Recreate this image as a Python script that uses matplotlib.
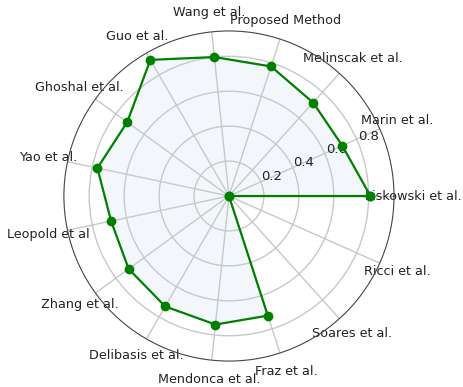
import numpy as np
import matplotlib.pyplot as plt

# methods compared, counter-clockwise starting at 0 degrees
metodos = ['Liskowski et al.', 'Marin et al.', 'Melinscak et al.', 'Proposed Method',
           'Wang et al.', 'Guo et al.', 'Ghoshal et al.', 'Yao et al.', 'Leopold et al',
           'Zhang et al.', 'Delibasis et al.', 'Mendonca et al.', 'Fraz et al.',
           'Soares et al.', 'Ricci et al.']
valores = [0.81, 0.71, 0.72, 0.78, 0.80, 0.90, 0.72, 0.77, 0.69,
           0.71, 0.73, 0.74, 0.72, 0.0, 0.0]

n = len(metodos)
angulos = np.linspace(0, 2 * np.pi, n, endpoint=False).tolist()

# fecha o poligono
vals = valores + valores[:1]
angs = angulos + angulos[:1]

fig = plt.figure(figsize=(4.63, 3.87), dpi=100)
ax = fig.add_axes([0.138, 0.067, 0.713, 0.853], polar=True)

ax.plot(angs, vals, color='green', linewidth=1.6, marker='o', markersize=6)
ax.fill(angs, vals, color='#e6eefa', alpha=0.45, zorder=0)

ax.set_xticks(angulos)
ax.set_xticklabels(metodos, fontsize=9.2, color='#222222')
ax.set_yticks([0.2, 0.4, 0.6, 0.8])
ax.set_yticklabels(['0.2', '0.4', '0.6', '0.8'], fontsize=9.5, color='#222222')
ax.set_ylim(0, 0.945)
ax.grid(color='#c8c8c8', linewidth=1.0)
ax.spines['polar'].set_color('#444444')

plt.savefig('out.png', dpi=100)
